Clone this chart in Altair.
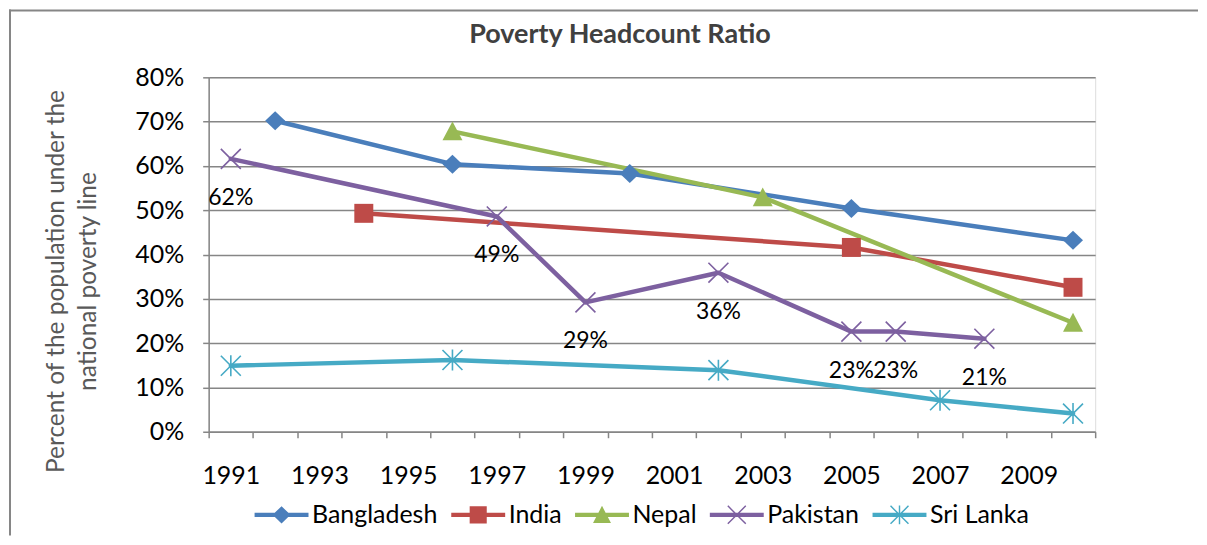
import altair as alt
import pandas as pd

# ---------------- data ----------------
countries = ["Bangladesh", "India", "Nepal", "Pakistan", "Sri Lanka"]
colors = ["#4A7EBB", "#BE4B48", "#98B954", "#7D60A0", "#46AAC5"]

bangladesh_years = [1992, 1996, 2000, 2005, 2010]
bangladesh_values = [70.2, 60.4, 58.3, 50.4, 43.2]

india_years = [1994, 2005, 2010]
india_values = [49.3, 41.6, 32.6]

nepal_years = [1996, 2003, 2010]
nepal_values = [67.8, 52.9, 24.6]

pakistan_years = [1991, 1997, 1999, 2002, 2005, 2006, 2008]
pakistan_values = [61.6, 48.6, 29.2, 35.9, 22.6, 22.6, 21.0]

srilanka_years = [1991, 1996, 2002, 2007, 2010]
srilanka_values = [14.9, 16.2, 13.9, 7.1, 4.1]

labelled_series = "Pakistan"

x_label_years = [1991, 1993, 1995, 1997, 1999, 2001, 2003, 2005, 2007, 2009]
first_year, last_year = 1991, 2010
y_ticks = [0, 10, 20, 30, 40, 50, 60, 70, 80]

title_text = "Poverty Headcount Ratio"
y_title = ["Percent of the population under the", "national poverty line"]

series = {
    "Bangladesh": (bangladesh_years, bangladesh_values),
    "India": (india_years, india_values),
    "Nepal": (nepal_years, nepal_values),
    "Pakistan": (pakistan_years, pakistan_values),
    "Sri Lanka": (srilanka_years, srilanka_values),
}
rows = []
for c in countries:
    ys, vs = series[c]
    for yr, v in zip(ys, vs):
        rows.append({"country": c, "year": yr, "value": v})
df = pd.DataFrame(rows)

# ---------------- styling ----------------
FONT = "Lato"
GRAY = "#868686"
W, H = 888, 355


def poly(points, s=1.0):
    return "M" + "L".join(f"{x * s:.3f},{y * s:.3f}" for x, y in points) + "Z"


diamond = [[(0, -0.95), (1, 0), (0, 0.95), (-1, 0)]]
square = [[(-0.95, -0.95), (0.95, -0.95), (0.95, 0.95), (-0.95, 0.95)]]
triangle = [[(0, -1), (1, 0.9), (-1, 0.9)]]
xmark = [
    [(-1.057, -0.943), (-0.943, -1.057), (1.057, 0.943), (0.943, 1.057)],
    [(1.057, -0.943), (-0.943, 1.057), (-1.057, 0.943), (0.943, -1.057)],
]
asterisk = xmark + [[(-0.08, -1.05), (0.08, -1.05), (0.08, 1.05), (-0.08, 1.05)]]
markers = [diamond, square, triangle, xmark, asterisk]
legend_line = [(-2.7, -0.22), (2.7, -0.22), (2.7, 0.22), (-2.7, 0.22)]

point_paths = ["".join(poly(p) for p in m) for m in markers]
legend_paths = [poly(legend_line) + "".join(poly(p, 0.9) for p in m) for m in markers]

boundaries = [y - 0.5 for y in range(first_year, last_year + 2)]
label_array = "[" + ",".join(str(y) for y in x_label_years) + "]"

x_axis = alt.Axis(
    values=boundaries,
    labelExpr=f"indexof({label_array}, datum.value + 0.5) >= 0 ? format(datum.value + 0.5, 'd') : ''",
    labelOffset=22.2, labelFlush=False, labelOverlap=False,
    grid=False, domainColor=GRAY, domainWidth=1.5, tickColor=GRAY, tickWidth=1.5,
    tickSize=6, labelPadding=26, labelBaseline="top", labelAlign="center",
    labelFont=FONT, labelFontSize=25, labelColor="black", title=None,
)
y_axis = alt.Axis(
    values=y_ticks, labelExpr="datum.value + '%'",
    grid=True, gridColor=GRAY, gridWidth=1.5, domainColor=GRAY, domainWidth=1.5,
    tickColor=GRAY, tickWidth=1.5, tickSize=6, labelPadding=19,
    labelFont=FONT, labelFontSize=25, labelColor="black",
    title=y_title, titleFont=FONT, titleFontSize=24.5, titleFontWeight="normal",
    titleColor="#595959", titleAngle=270, titleX=-145, titleY=204,
    titleAlign="center", titleBaseline="alphabetic", titleLineHeight=32,
)

x_enc = alt.X("year:Q", scale=alt.Scale(domain=[first_year - 0.5, last_year + 0.5], nice=False, zero=False), axis=x_axis)
y_enc = alt.Y("value:Q", scale=alt.Scale(domain=[0, 80], nice=False), axis=y_axis)

base = alt.Chart(df)

lines = base.mark_line(strokeWidth=4.5, strokeJoin="round", strokeCap="round").encode(
    x=x_enc, y=y_enc,
    color=alt.Color("country:N", scale=alt.Scale(domain=countries, range=colors), legend=None),
)

points = base.mark_point(filled=True, size=400, strokeWidth=0, opacity=1).encode(
    x=x_enc, y=y_enc,
    color=alt.Color("country:N", scale=alt.Scale(domain=countries, range=colors), legend=None),
    shape=alt.Shape("country:N", scale=alt.Scale(domain=countries, range=point_paths), legend=None),
)

labels = base.transform_filter(
    alt.datum.country == labelled_series
).transform_calculate(
    lab="format(datum.value, '.0f') + '%'"
).mark_text(dy=39, font=FONT, fontSize=23, color="black", baseline="middle").encode(
    x=x_enc, y=y_enc, text="lab:N",
)

legend_kw = dict(
    orient="none", legendX=45, legendY=425.5, direction="horizontal",
    title=None, labelFont=FONT, labelFontSize=25, labelColor="black",
    symbolSize=400, symbolStrokeWidth=0, symbolOpacity=1,
    symbolOffset=15.5, labelOffset=18, columnPadding=12, padding=0,
)
legend_layer = base.transform_filter("false").mark_point(
    filled=True, size=400, strokeWidth=0, opacity=1
).encode(
    color=alt.Color("country:N", scale=alt.Scale(domain=countries, range=colors),
                    legend=alt.Legend(**legend_kw)),
    shape=alt.Shape("country:N", scale=alt.Scale(domain=countries, range=legend_paths),
                    legend=alt.Legend(**legend_kw)),
)

frame_df = pd.DataFrame({"k": [0]})
top_border = alt.Chart(frame_df).mark_rule(color=GRAY, strokeWidth=2).encode(
    x=alt.value(-200), x2=alt.value(991), y=alt.value(-67)
)
left_border = alt.Chart(frame_df).mark_rule(color=GRAY, strokeWidth=2).encode(
    x=alt.value(-199), y=alt.value(-68), y2=alt.value(459)
)
title_mark = alt.Chart(frame_df).mark_text(
    font=FONT, fontSize=27, fontWeight="bold", color="#404040",
    align="center", baseline="alphabetic",
).encode(x=alt.value(412), y=alt.value(-34), text=alt.value(title_text))

chart = alt.layer(
    top_border, left_border, title_mark, lines, points, labels, legend_layer
).resolve_scale(
    color="independent", shape="independent"
).properties(
    width=W, height=H, padding=0,
).configure_view(stroke=None).configure(background="white")

chart.save("out.html", embed_options={"renderer": "svg", "actions": False})
